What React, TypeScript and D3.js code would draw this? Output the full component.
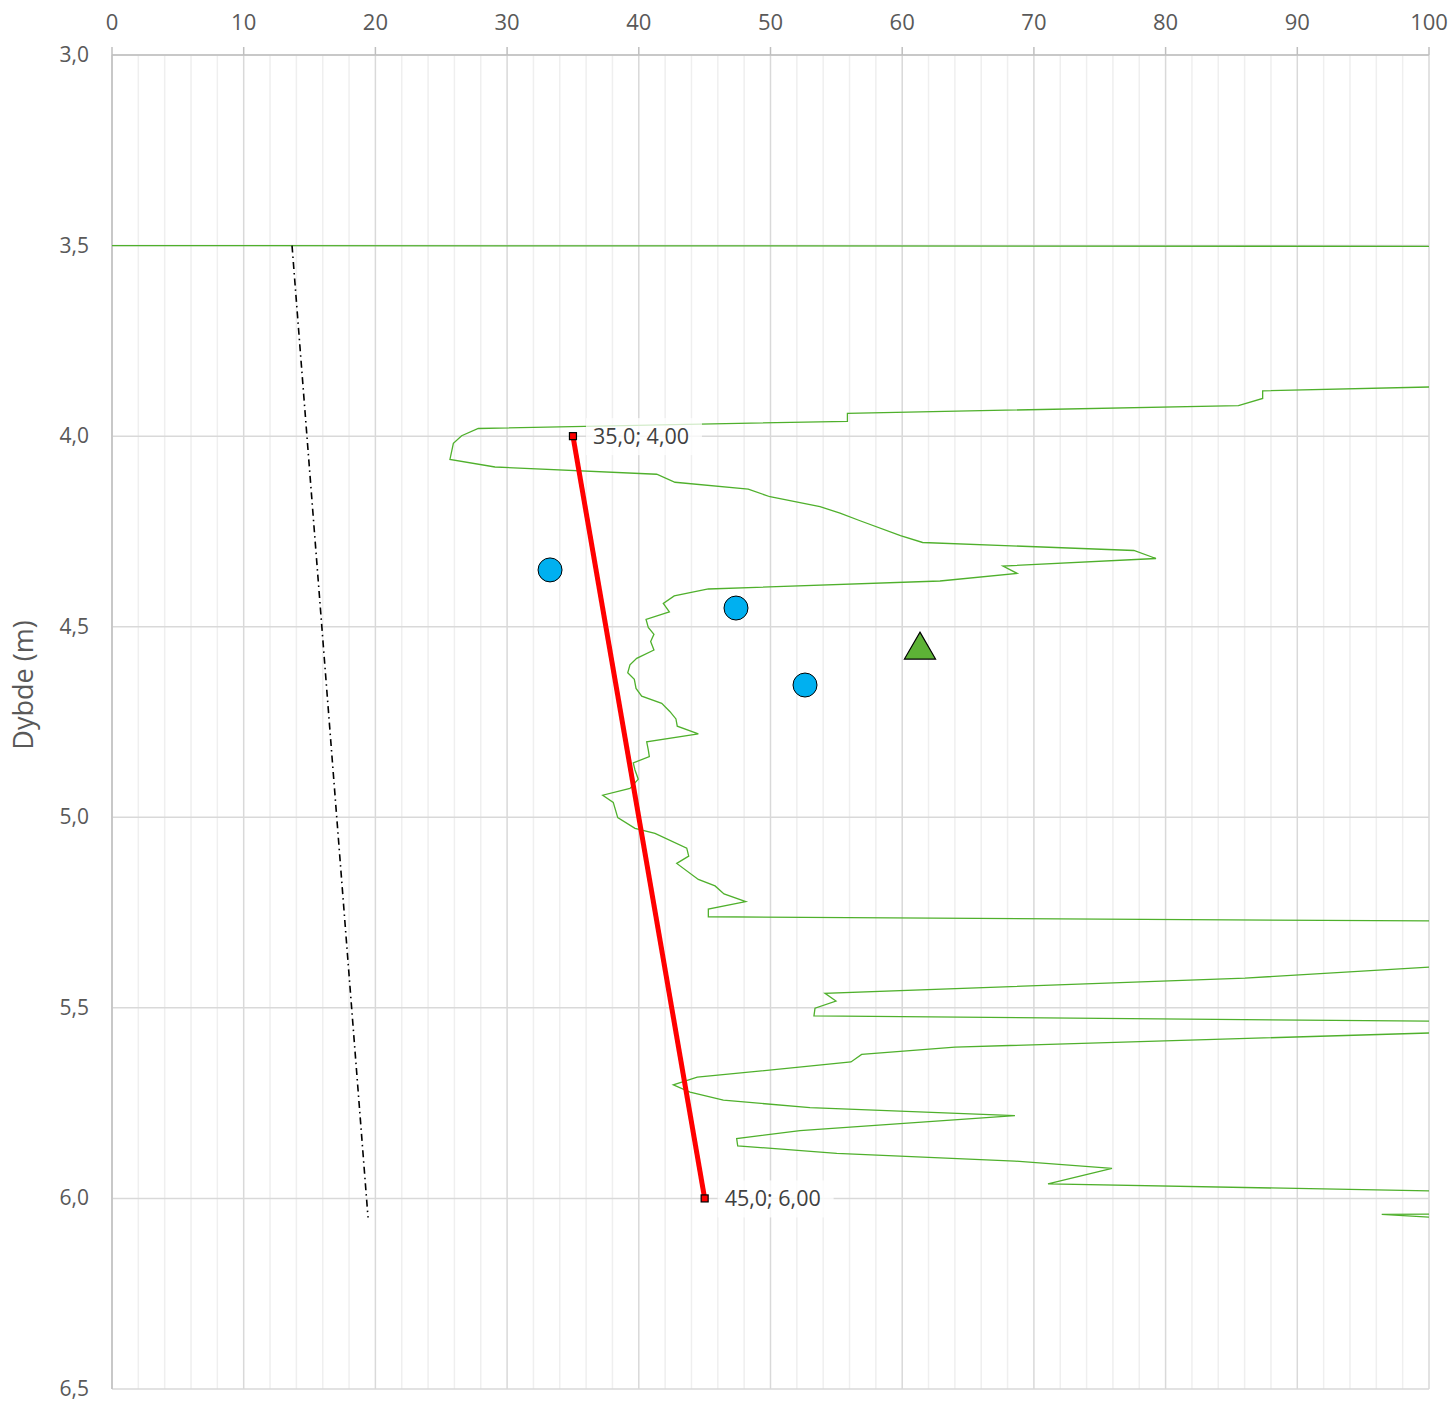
import React from 'react';
import * as d3 from 'd3';

const W = 1451;
const H = 1401;
const M = { left: 112, right: 22, top: 55, bottom: 12 };

const xMajorTicks = [0, 10, 20, 30, 40, 50, 60, 70, 80, 90, 100];
const xMinorTicks = d3.range(0, 101, 2);
const yTicks = [3.0, 3.5, 4.0, 4.5, 5.0, 5.5, 6.0, 6.5];
const yTitle = 'Dybde (m)';

// Sounding profile (values beyond 100 run off the right edge and are clipped)
const soundingX = [
  0, 100, 130, 130, 100, 87.37, 87.37, 85.53, 55.84, 55.84, 27.81, 26.55, 25.92, 25.66,
  29.08, 41.36, 42.75, 48.31, 49.96, 53.76, 55.28, 56.8, 59.87, 61.55, 77.59, 79.27,
  67.65, 68.72, 62.87, 45.28, 42.69, 41.86, 42.32, 40.55, 40.72, 41.15, 40.9, 41.15,
  39.84, 39.33, 39.16, 39.66, 39.79, 40.22, 41.74, 42.37, 42.82, 42.92, 44.52, 40.6,
  40.72, 40.8, 39.58, 39.71, 39.96, 39.33, 37.26, 38.06, 38.4, 39.71, 41.23, 43.64,
  43.79, 42.88, 44.52, 45.79, 46.47, 48.12, 45.28, 45.28, 100, 130, 130, 100, 86.03,
  54.14, 54.97, 53.38, 53.3, 100, 130, 130, 100, 64.01, 56.92, 56.11, 44.44, 42.62,
  43.89, 46.42, 53.0, 68.56, 52.24, 47.43, 47.51, 55.03, 68.56, 75.93, 71.07, 100,
  130, 130, 100, 96.41, 100,
];
const soundingDepth = [
  3.5, 3.502, 3.503, 3.869, 3.871, 3.881, 3.901, 3.92, 3.94, 3.961, 3.98, 3.999, 4.019,
  4.061, 4.081, 4.1, 4.121, 4.139, 4.159, 4.185, 4.202, 4.222, 4.261, 4.279, 4.3, 4.321,
  4.341, 4.36, 4.38, 4.401, 4.419, 4.439, 4.461, 4.481, 4.502, 4.52, 4.539, 4.561,
  4.583, 4.6, 4.621, 4.638, 4.662, 4.682, 4.701, 4.723, 4.742, 4.761, 4.781, 4.802,
  4.823, 4.841, 4.857, 4.876, 4.9, 4.924, 4.942, 4.961, 5.001, 5.029, 5.042, 5.081,
  5.102, 5.121, 5.163, 5.18, 5.201, 5.221, 5.241, 5.261, 5.272, 5.274, 5.39, 5.393,
  5.422, 5.462, 5.482, 5.501, 5.521, 5.535, 5.537, 5.563, 5.566, 5.603, 5.622, 5.642,
  5.682, 5.702, 5.721, 5.742, 5.762, 5.783, 5.822, 5.843, 5.862, 5.882, 5.902, 5.921,
  5.962, 5.98, 5.981, 6.04, 6.041, 6.042, 6.049,
];

const trendX = [13.67, 19.44];
const trendDepth = [3.5, 6.05];

const redX = [35, 45];
const redDepth = [4.0, 6.0];

const circleX = [33.26, 47.38, 52.62];
const circleDepth = [4.351, 4.451, 4.653];

const triangleX = [61.35];
const triangleDepth = [4.556];

const FONT = "'Open Sans', 'Noto Sans', sans-serif";
const TXT = '#595959';

const comma = (s: string) => s.replace('.', ',');

export default function App() {
  const x = d3.scaleLinear().domain([0, 100]).range([M.left, W - M.right]);
  const y = d3.scaleLinear().domain([3.0, 6.5]).range([M.top, H - M.bottom]);

  const line = d3
    .line<[number, number]>()
    .x((d) => x(d[0]))
    .y((d) => y(d[1]));

  const sounding = soundingX.map((v, i) => [v, soundingDepth[i]] as [number, number]);
  const trend = trendX.map((v, i) => [v, trendDepth[i]] as [number, number]);
  const red = redX.map((v, i) => [v, redDepth[i]] as [number, number]);

  const x0 = x(0), x1 = x(100), y0 = y(3.0), y1 = y(6.5);
  const triSym = d3.symbol().type(d3.symbolTriangle).size(420)();

  return (
    <svg
      width={W}
      height={H}
      style={{ position: 'absolute', left: 0, top: 0, background: '#fff' }}
      fontFamily={FONT}
    >
      <defs>
        <clipPath id="plot">
          <rect x={x0} y={y0} width={x1 - x0} height={y1 - y0} />
        </clipPath>
      </defs>
      <rect x={0} y={0} width={W} height={H} fill="#fff" />
      {xMinorTicks.filter((t) => t % 10 !== 0).map((t) => (
        <line key={'mn' + t} x1={x(t)} x2={x(t)} y1={y0} y2={y1} stroke="#efefef" strokeWidth={1.5} />
      ))}
      {xMajorTicks.map((t) => (
        <line key={'mj' + t} x1={x(t)} x2={x(t)} y1={y0} y2={y1} stroke="#d9d9d9" strokeWidth={1.5} />
      ))}
      {yTicks.map((t) => (
        <line key={'h' + t} x1={x0} x2={x1} y1={y(t)} y2={y(t)} stroke="#d9d9d9" strokeWidth={1.5} />
      ))}
      <line x1={x0} x2={x1} y1={y0} y2={y0} stroke="#bfbfbf" strokeWidth={1.5} />
      <line x1={x0} x2={x0} y1={y0} y2={y1} stroke="#bfbfbf" strokeWidth={1.5} />
      {xMajorTicks.map((t) => (
        <line key={'tk' + t} x1={x(t)} x2={x(t)} y1={y0 - 8} y2={y0} stroke="#bfbfbf" strokeWidth={1.5} />
      ))}
      {xMajorTicks.map((t) => (
        <text key={'xl' + t} x={x(t)} y={30} textAnchor="middle" fontSize={22} fill={TXT}>
          {t}
        </text>
      ))}
      {yTicks.map((t) => (
        <text key={'yl' + t} x={89} y={y(t) + 7} textAnchor="end" fontSize={21} fill={TXT}>
          {comma(t.toFixed(1))}
        </text>
      ))}
      <text
        transform={`translate(33, 685) rotate(-90)`}
        textAnchor="middle"
        fontSize={27}
        fill={TXT}
      >
        {yTitle}
      </text>

      <g clipPath="url(#plot)">
        <path d={line(sounding) || ''} fill="none" stroke="#4fb02c" strokeWidth={1.3} strokeLinejoin="miter" />
        <path
          d={line(trend) || ''}
          fill="none"
          stroke="#000"
          strokeWidth={1.6}
          strokeDasharray="7,4,1.5,4"
        />
      </g>

      <path d={line(red) || ''} fill="none" stroke="#ff0000" strokeWidth={5} />
      {red.map((d, i) => (
        <rect
          key={'rm' + i}
          x={x(d[0]) - 3.5}
          y={y(d[1]) - 3.5}
          width={7}
          height={7}
          fill="#ff0000"
          stroke="#000"
          strokeWidth={1.2}
        />
      ))}
      {red.map((d, i) => {
        const label = `${comma(d[0].toFixed(1))}; ${comma(d[1].toFixed(2))}`;
        return (
          <g key={'rl' + i}>
            <rect x={x(d[0]) + 13} y={y(d[1]) - 18} width={116} height={37} fill="#fff" fillOpacity={0.75} />
            <text x={x(d[0]) + 20} y={y(d[1]) + 8} fontSize={21.5} fill="#404040">
              {label}
            </text>
          </g>
        );
      })}

      {circleX.map((v, i) => (
        <circle key={'c' + i} cx={x(v)} cy={y(circleDepth[i])} r={12} fill="#00b0f0" stroke="#000" strokeWidth={1} />
      ))}
      {triangleX.map((v, i) => (
        <path
          key={'t' + i}
          d={triSym || ''}
          transform={`translate(${x(v)}, ${y(triangleDepth[i]) + 2})`}
          fill="#5db236"
          stroke="#000"
          strokeWidth={1.2}
        />
      ))}
    </svg>
  );
}
